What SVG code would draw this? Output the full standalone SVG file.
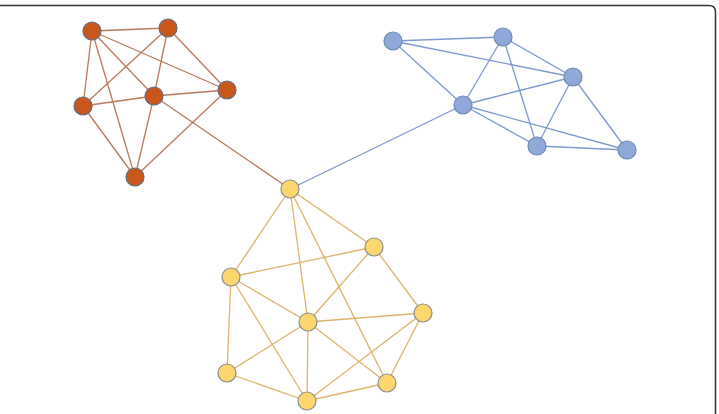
<svg xmlns="http://www.w3.org/2000/svg" width="719" height="414" viewBox="0 0 719 414">
<style>
.o{stroke:#B97A5C;stroke-width:1.3}
.b{stroke:#7B9AD0;stroke-width:1.3}
.y{stroke:#DDB46A;stroke-width:1.3}
.no{fill:#C9571C;stroke:#5E6C80;stroke-width:1.2}
.nb{fill:#8EA9DA;stroke:#6E88B4;stroke-width:1.2}
.ny{fill:#FDD66E;stroke:#8A8E8C;stroke-width:1.2}
</style>
<rect width="719" height="414" fill="#fff"/>
<path d="M0 5.5 H709 Q715.5 5.5 715.5 12 V414" fill="none" stroke="#333" stroke-width="1.5"/>
<g id="connectors" fill="none">
<g class="o">
<line x1="92" y1="31" x2="168" y2="28"/>
<line x1="92" y1="31" x2="83" y2="106"/>
<line x1="92" y1="31" x2="154" y2="96"/>
<line x1="92" y1="31" x2="227" y2="90"/>
<line x1="92" y1="31" x2="135" y2="177"/>
<line x1="168" y1="28" x2="83" y2="106"/>
<line x1="168" y1="28" x2="154" y2="96"/>
<line x1="168" y1="28" x2="227" y2="90"/>
<line x1="83" y1="106" x2="154" y2="96"/>
<line x1="83" y1="106" x2="135" y2="177"/>
<line x1="154" y1="96" x2="227" y2="90"/>
<line x1="154" y1="96" x2="135" y2="177"/>
<line x1="227" y1="90" x2="135" y2="177"/>
<line x1="154" y1="96" x2="290" y2="189"/>
</g>
<g class="b">
<line x1="393" y1="41" x2="503" y2="37"/>
<line x1="393" y1="41" x2="573" y2="77"/>
<line x1="393" y1="41" x2="463" y2="105"/>
<line x1="503" y1="37" x2="463" y2="105"/>
<line x1="503" y1="37" x2="573" y2="77"/>
<line x1="503" y1="37" x2="537" y2="146"/>
<line x1="463" y1="105" x2="573" y2="77"/>
<line x1="463" y1="105" x2="537" y2="146"/>
<line x1="463" y1="105" x2="627" y2="150"/>
<line x1="573" y1="77" x2="537" y2="146"/>
<line x1="573" y1="77" x2="627" y2="150"/>
<line x1="537" y1="146" x2="627" y2="150"/>
<line x1="463" y1="105" x2="290" y2="189"/>
</g>
<g class="y">
<line x1="290" y1="189" x2="374" y2="247"/>
<line x1="290" y1="189" x2="231" y2="277"/>
<line x1="290" y1="189" x2="308" y2="322"/>
<line x1="290" y1="189" x2="387" y2="383"/>
<line x1="374" y1="247" x2="231" y2="277"/>
<line x1="374" y1="247" x2="308" y2="322"/>
<line x1="374" y1="247" x2="423" y2="313"/>
<line x1="231" y1="277" x2="308" y2="322"/>
<line x1="231" y1="277" x2="227" y2="373"/>
<line x1="231" y1="277" x2="307" y2="401"/>
<line x1="308" y1="322" x2="423" y2="313"/>
<line x1="308" y1="322" x2="227" y2="373"/>
<line x1="308" y1="322" x2="307" y2="401"/>
<line x1="308" y1="322" x2="387" y2="383"/>
<line x1="423" y1="313" x2="307" y2="401"/>
<line x1="423" y1="313" x2="387" y2="383"/>
<line x1="227" y1="373" x2="307" y2="401"/>
<line x1="307" y1="401" x2="387" y2="383"/>
</g>
</g>
<g id="o1"><circle class="no" cx="92" cy="31" r="9"/></g>
<g id="o2"><circle class="no" cx="168" cy="28" r="9"/></g>
<g id="o3"><circle class="no" cx="83" cy="106" r="9"/></g>
<g id="o4"><circle class="no" cx="154" cy="96" r="9"/></g>
<g id="o5"><circle class="no" cx="227" cy="90" r="9"/></g>
<g id="o6"><circle class="no" cx="135" cy="177" r="9"/></g>
<g id="b1"><circle class="nb" cx="393" cy="41" r="9"/></g>
<g id="b2"><circle class="nb" cx="503" cy="37" r="9"/></g>
<g id="b3"><circle class="nb" cx="573" cy="77" r="9"/></g>
<g id="b4"><circle class="nb" cx="463" cy="105" r="9"/></g>
<g id="b5"><circle class="nb" cx="537" cy="146" r="9"/></g>
<g id="b6"><circle class="nb" cx="627" cy="150" r="9"/></g>
<g id="y1"><circle class="ny" cx="290" cy="189" r="9"/></g>
<g id="y2"><circle class="ny" cx="374" cy="247" r="9"/></g>
<g id="y3"><circle class="ny" cx="231" cy="277" r="9"/></g>
<g id="y4"><circle class="ny" cx="308" cy="322" r="9"/></g>
<g id="y5"><circle class="ny" cx="423" cy="313" r="9"/></g>
<g id="y6"><circle class="ny" cx="227" cy="373" r="9"/></g>
<g id="y7"><circle class="ny" cx="387" cy="383" r="9"/></g>
<g id="y8"><circle class="ny" cx="307" cy="401" r="9"/></g>
</svg>
